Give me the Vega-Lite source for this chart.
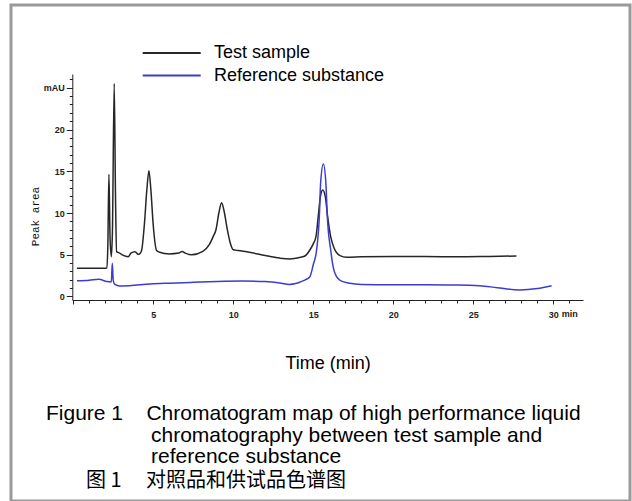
{
  "$schema": "https://vega.github.io/schema/vega-lite/v6.json",
  "autosize": "none",
  "width": 619,
  "height": 496,
  "padding": {"left": 11, "top": 5, "right": 2, "bottom": 0},
  "background": "white",
  "config": {"view": {"stroke": "#9a9a9a", "strokeWidth": 3}},
  "title": {
    "text": [
      "Figure 1\u00a0\u00a0\u00a0\u00a0Chromatogram map of high performance liquid",
      "\u200b\u00a0\u00a0\u00a0\u00a0\u00a0\u00a0\u00a0\u00a0\u00a0\u00a0\u00a0\u00a0\u00a0\u00a0\u00a0\u00a0\u00a0\u00a0chromatography between test sample and",
      "\u200b\u00a0\u00a0\u00a0\u00a0\u00a0\u00a0\u00a0\u00a0\u00a0\u00a0\u00a0\u00a0\u00a0\u00a0\u00a0\u00a0\u00a0\u00a0reference substance"
    ],
    "subtitle": "\u200b\u3000\u3000图 1\u3000 对照品和供试品色谱图",
    "orient": "bottom",
    "anchor": "start",
    "frame": "group",
    "offset": -98,
    "dx": 35,
    "font": "Liberation Sans",
    "fontSize": 21,
    "fontWeight": "normal",
    "color": "#000000",
    "lineHeight": 21.7,
    "subtitleFont": "Noto Sans CJK SC",
    "subtitleFontSize": 20,
    "subtitleColor": "#000000",
    "subtitlePadding": 4
  },
  "data": {"values": [
    {"series": "Test sample", "t": 0.23, "v": 3.38},
    {"series": "Test sample", "t": 1.0, "v": 3.38},
    {"series": "Test sample", "t": 1.9, "v": 3.38},
    {"series": "Test sample", "t": 2.1, "v": 3.4},
    {"series": "Test sample", "t": 2.16, "v": 6},
    {"series": "Test sample", "t": 2.23, "v": 14.63},
    {"series": "Test sample", "t": 2.3, "v": 7},
    {"series": "Test sample", "t": 2.38, "v": 4.77},
    {"series": "Test sample", "t": 2.45, "v": 8},
    {"series": "Test sample", "t": 2.56, "v": 25.5},
    {"series": "Test sample", "t": 2.64, "v": 12},
    {"series": "Test sample", "t": 2.71, "v": 5.37},
    {"series": "Test sample", "t": 2.9, "v": 5.2},
    {"series": "Test sample", "t": 3.1, "v": 4.95},
    {"series": "Test sample", "t": 3.44, "v": 4.77},
    {"series": "Test sample", "t": 3.6, "v": 5.2},
    {"series": "Test sample", "t": 3.86, "v": 5.37},
    {"series": "Test sample", "t": 4.06, "v": 5.05},
    {"series": "Test sample", "t": 4.15, "v": 5.1},
    {"series": "Test sample", "t": 4.27, "v": 5.5},
    {"series": "Test sample", "t": 4.44, "v": 8.5},
    {"series": "Test sample", "t": 4.6, "v": 12.8},
    {"series": "Test sample", "t": 4.73, "v": 15.07},
    {"series": "Test sample", "t": 4.85, "v": 12.8},
    {"series": "Test sample", "t": 5.0, "v": 8.5},
    {"series": "Test sample", "t": 5.21, "v": 5.5},
    {"series": "Test sample", "t": 5.4, "v": 5.3},
    {"series": "Test sample", "t": 6.0, "v": 5.1},
    {"series": "Test sample", "t": 6.6, "v": 5.2},
    {"series": "Test sample", "t": 6.8, "v": 5.4},
    {"series": "Test sample", "t": 7.0, "v": 5.2},
    {"series": "Test sample", "t": 7.4, "v": 5.0},
    {"series": "Test sample", "t": 8.1, "v": 5.4},
    {"series": "Test sample", "t": 8.5, "v": 6.2},
    {"series": "Test sample", "t": 8.75, "v": 7.2},
    {"series": "Test sample", "t": 8.92, "v": 8.0},
    {"series": "Test sample", "t": 9.1, "v": 10.0},
    {"series": "Test sample", "t": 9.27, "v": 11.23},
    {"series": "Test sample", "t": 9.45, "v": 10.0},
    {"series": "Test sample", "t": 9.63, "v": 8.0},
    {"series": "Test sample", "t": 9.8, "v": 6.5},
    {"series": "Test sample", "t": 10.0, "v": 5.6},
    {"series": "Test sample", "t": 10.3, "v": 5.5},
    {"series": "Test sample", "t": 11.0, "v": 5.3},
    {"series": "Test sample", "t": 12.0, "v": 4.9},
    {"series": "Test sample", "t": 12.9, "v": 4.6},
    {"series": "Test sample", "t": 13.54, "v": 4.5},
    {"series": "Test sample", "t": 14.2, "v": 4.7},
    {"series": "Test sample", "t": 14.48, "v": 4.85},
    {"series": "Test sample", "t": 14.8, "v": 5.6},
    {"series": "Test sample", "t": 15.0, "v": 6.3},
    {"series": "Test sample", "t": 15.17, "v": 7.16},
    {"series": "Test sample", "t": 15.31, "v": 9.56},
    {"series": "Test sample", "t": 15.45, "v": 12.0},
    {"series": "Test sample", "t": 15.59, "v": 12.75},
    {"series": "Test sample", "t": 15.75, "v": 12.0},
    {"series": "Test sample", "t": 15.9, "v": 9.56},
    {"series": "Test sample", "t": 16.09, "v": 7.16},
    {"series": "Test sample", "t": 16.3, "v": 5.8},
    {"series": "Test sample", "t": 16.67, "v": 4.9},
    {"series": "Test sample", "t": 17.1, "v": 4.7},
    {"series": "Test sample", "t": 18, "v": 4.75},
    {"series": "Test sample", "t": 20, "v": 4.8},
    {"series": "Test sample", "t": 22, "v": 4.8},
    {"series": "Test sample", "t": 24, "v": 4.75},
    {"series": "Test sample", "t": 26, "v": 4.8},
    {"series": "Test sample", "t": 27.7, "v": 4.85},
    {"series": "Reference substance", "t": 0.23, "v": 1.89},
    {"series": "Reference substance", "t": 1.0, "v": 1.95},
    {"series": "Reference substance", "t": 1.6, "v": 2.06},
    {"series": "Reference substance", "t": 2.1, "v": 1.8},
    {"series": "Reference substance", "t": 2.38, "v": 1.75},
    {"series": "Reference substance", "t": 2.44, "v": 3.98},
    {"series": "Reference substance", "t": 2.5, "v": 1.9},
    {"series": "Reference substance", "t": 2.6, "v": 1.45},
    {"series": "Reference substance", "t": 2.9, "v": 1.26},
    {"series": "Reference substance", "t": 3.5, "v": 1.3},
    {"series": "Reference substance", "t": 4.8, "v": 1.5},
    {"series": "Reference substance", "t": 6.0, "v": 1.6},
    {"series": "Reference substance", "t": 7.5, "v": 1.7},
    {"series": "Reference substance", "t": 9.0, "v": 1.8},
    {"series": "Reference substance", "t": 10.6, "v": 1.85},
    {"series": "Reference substance", "t": 12.0, "v": 1.8},
    {"series": "Reference substance", "t": 13.0, "v": 1.6},
    {"series": "Reference substance", "t": 13.5, "v": 1.45},
    {"series": "Reference substance", "t": 13.9, "v": 1.55},
    {"series": "Reference substance", "t": 14.2, "v": 1.75},
    {"series": "Reference substance", "t": 14.5, "v": 2.0},
    {"series": "Reference substance", "t": 14.79, "v": 2.37},
    {"series": "Reference substance", "t": 15.0, "v": 3.8},
    {"series": "Reference substance", "t": 15.21, "v": 5.57},
    {"series": "Reference substance", "t": 15.38, "v": 9.56},
    {"series": "Reference substance", "t": 15.46, "v": 13.56},
    {"series": "Reference substance", "t": 15.63, "v": 15.87},
    {"series": "Reference substance", "t": 15.79, "v": 13.56},
    {"series": "Reference substance", "t": 15.88, "v": 9.56},
    {"series": "Reference substance", "t": 16.09, "v": 5.57},
    {"series": "Reference substance", "t": 16.25, "v": 3.5},
    {"series": "Reference substance", "t": 16.46, "v": 2.37},
    {"series": "Reference substance", "t": 16.7, "v": 1.9},
    {"series": "Reference substance", "t": 17.3, "v": 1.58},
    {"series": "Reference substance", "t": 18, "v": 1.45},
    {"series": "Reference substance", "t": 20, "v": 1.4},
    {"series": "Reference substance", "t": 22, "v": 1.4},
    {"series": "Reference substance", "t": 24, "v": 1.38},
    {"series": "Reference substance", "t": 25.4, "v": 1.3},
    {"series": "Reference substance", "t": 26.5, "v": 1.05},
    {"series": "Reference substance", "t": 27.9, "v": 0.78},
    {"series": "Reference substance", "t": 29, "v": 0.95},
    {"series": "Reference substance", "t": 29.9, "v": 1.29}
  ]},
  "mark": {"type": "line", "strokeWidth": 1.5, "interpolate": "monotone"},
  "encoding": {
    "x": {
      "field": "t",
      "type": "quantitative",
      "scale": {"domain": [-0.06, 31.86], "range": [61.3, 572], "zero": false, "nice": false},
      "axis": {
        "orient": "bottom",
        "offset": -201,
        "values": [0,1,2,3,4,5,6,7,8,9,10,11,12,13,14,15,16,17,18,19,20,21,22,23,24,25,26,27,28,29,30,31],
        "labelExpr": "datum.value === 31 ? 'min' : ((datum.value % 5 === 0 && datum.value > 0) ? datum.label : '')",
        "tickSize": {"condition": {"test": "datum.value % 5 === 0", "value": 4}, "value": 3},
        "labelPadding": 6,
        "labelFont": "Liberation Sans",
        "labelFontSize": 9,
        "labelFontWeight": "bold",
        "labelColor": "#222222",
        "labelFlush": false,
        "labelOverlap": false,
        "labelBound": false,
        "domainColor": "#222222",
        "tickColor": "#222222",
        "grid": false,
        "title": "Time (min)",
        "titleFont": "Liberation Sans",
        "titleFontSize": 18,
        "titleFontWeight": "normal",
        "titleColor": "#000000",
        "titleY": 68.5,
        "titleBaseline": "alphabetic"
      }
    },
    "y": {
      "field": "v",
      "type": "quantitative",
      "scale": {"domain": [-0.42, 26.65], "range": [295, 69], "zero": false, "nice": false},
      "axis": {
        "orient": "left",
        "offset": -61.3,
        "values": [0,1,2,3,4,5,6,7,8,9,10,11,12,13,14,15,16,17,18,19,20,21,22,23,24,25,26],
        "labelExpr": "datum.value === 25 ? 'mAU' : (datum.value % 5 === 0 ? datum.label : '')",
        "tickSize": {"condition": {"test": "datum.value % 5 === 0", "value": 6}, "value": 3},
        "labelPadding": 2,
        "labelFont": "Liberation Sans",
        "labelFontSize": 9,
        "labelFontWeight": "bold",
        "labelColor": "#222222",
        "labelFlush": false,
        "labelOverlap": false,
        "labelBound": false,
        "domainColor": "#222222",
        "tickColor": "#222222",
        "grid": false,
        "title": "Peak area",
        "titleFont": "Liberation Mono",
        "titleFontSize": 11,
        "titleFontWeight": "normal",
        "titleColor": "#111111",
        "titleAngle": -90,
        "titleX": -37.3,
        "titleY": 211,
        "titleAlign": "center",
        "titleBaseline": "middle"
      }
    },
    "color": {
      "field": "series",
      "type": "nominal",
      "scale": {"domain": ["Test sample", "Reference substance"], "range": ["#262626", "#3c3cd0"]},
      "legend": {
        "orient": "none",
        "legendX": 130.7,
        "legendY": 38,
        "title": null,
        "padding": 0,
        "direction": "vertical",
        "symbolType": "stroke",
        "symbolSize": 3364,
        "symbolStrokeWidth": 2,
        "clipHeight": 20,
        "rowPadding": 2.5,
        "labelOffset": 12.3,
        "labelFont": "Liberation Sans",
        "labelFontSize": 18,
        "labelColor": "#000000",
        "labelLimit": 400
      }
    }
  }
}
